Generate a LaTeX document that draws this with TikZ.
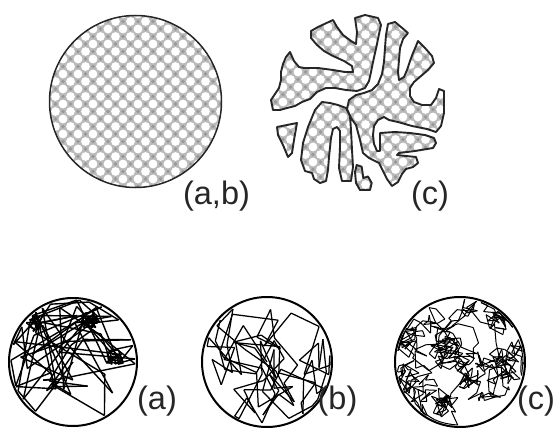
\documentclass[tikz,border=0pt]{standalone}
\usepackage{fontspec}
\setmainfont{Liberation Sans}
\newcount\wk
\begin{document}
\begin{tikzpicture}[x=1pt,y=-1pt,
  outline/.style={draw=black!85,line width=1.5pt},
  blobline/.style={draw=black!85,line width=1.9pt,line join=round},
  ring/.style={draw=black,line width=2pt},
  walkline/.style={black,line width=1.4pt,line join=round},
  midwalk/.style={black,line width=1.25pt,line join=round},
  thinwalk/.style={black,line width=1pt,line join=round},
  lab/.style={inner sep=0pt,text=black!85,font=\fontsize{32.5}{32.5}\selectfont}]

\useasboundingbox (0,0) rectangle (555,428);

% dotted lattice texture: white discs on grey with darker interstices
\newcommand\dotlattice[4]{% x0, y0, columns, rows
  \fill[black!27] (#1-9,#2-9) rectangle ++(15*#3+18,7.5*#4+18);
  \foreach \j in {0,...,#4}{\foreach \i in {0,...,#3}{%
    \fill[white] ({#1+15*\i+7.5*mod(\j,2)},{#2+7.5*\j}) circle (4.4pt);
    \fill[black!40] ({#1+15*\i+7.5+7.5*mod(\j,2)},{#2+7.5*\j}) circle (1.8pt);
  }}}

% random chain inside the unit disc, clamped at the rim
\newcommand\clampdraw[1]{%
  \pgfmathsetmacro\rr{sqrt(\nx*\nx+\ny*\ny)}%
  \pgfmathsetmacro\fc{\rr>0.985 ? 0.985/\rr : 1}%
  \pgfmathsetmacro\nx{\nx*\fc}%
  \pgfmathsetmacro\ny{\ny*\fc}%
  \draw[#1] (\wx,\wy) -- (\nx,\ny);%
  \xdef\wx{\nx}\xdef\wy{\ny}}
\newcommand\plainwalk[6]{% seed, steps, min len, max len, pull to centre, style
  \pgfmathsetseed{#1}%
  \gdef\wx{0}\gdef\wy{0}%
  \foreach \i in {1,...,#2}{%
    \pgfmathsetmacro\ang{360*rnd}%
    \pgfmathsetmacro\len{#3+(#4-#3)*rnd}%
    \pgfmathsetmacro\nx{#5*(\wx)+\len*cos(\ang)}%
    \pgfmathsetmacro\ny{#5*(\wy)+\len*sin(\ang)}%
    \clampdraw{#6}}}
\newcommand\guidedwalk[4]{% seed, steps per waypoint, waypoints, style
  \pgfmathsetseed{#1}%
  \gdef\wx{-0.75}\gdef\wy{-0.55}%
  \foreach \tx/\ty in {#3}{%
    \foreach \i in {1,...,#2}{%
      \pgfmathsetmacro\ang{360*rnd}%
      \pgfmathsetmacro\len{0.07+0.16*rnd}%
      \pgfmathsetmacro\nx{(\wx)+0.13*((\tx)-(\wx))+\len*cos(\ang)}%
      \pgfmathsetmacro\ny{(\wy)+0.13*((\ty)-(\wy))+\len*sin(\ang)}%
      \clampdraw{#4}}}}
\newcommand\knotpoint{%
  \ifcase\wk\or\def\kx{-0.6}\def\ky{-0.62}\or\def\kx{0.27}\def\ky{-0.66}%
  \or\def\kx{0.66}\def\ky{-0.06}\or\def\kx{-0.36}\def\ky{0.31}\fi
  \pgfmathsetmacro\ang{360*rnd}%
  \pgfmathsetmacro\rd{0.16*sqrt(rnd)}%
  \pgfmathsetmacro\nx{\kx+\rd*cos(\ang)}%
  \pgfmathsetmacro\ny{\ky+\rd*sin(\ang)}}
\newcommand\longstep{%
  \pgfmathsetmacro\ang{360*rnd}%
  \pgfmathsetmacro\len{0.4+0.9*rnd}%
  \pgfmathsetmacro\nx{0.8*(\wx)+\len*cos(\ang)}%
  \pgfmathsetmacro\ny{0.8*(\wy)+\len*sin(\ang)}}
\newcommand\knotwalk[2]{% seed, steps
  \pgfmathsetseed{#1}%
  \gdef\wx{0}\gdef\wy{0}\global\wk=0
  \foreach \i in {1,...,#2}{%
    \pgfmathsetmacro\u{rnd}%
    \ifnum\wk>0
      \ifdim\u pt<0.82pt \knotpoint\else\global\wk=0 \longstep\fi
    \else
      \ifdim\u pt<0.35pt
        \pgfmathtruncatemacro\kk{min(4,1+floor(4*rnd))}\global\wk=\kk\relax\knotpoint
      \else\longstep\fi
    \fi
    \clampdraw{walkline}}}

% ---- upper left: full disc
\begin{scope}
  \clip (135.5,101.5) circle (86pt);
  \dotlattice{48}{14}{12}{24}
\end{scope}
\draw[outline] (135.5,101.5) circle (86pt);
\node[lab] (lab-ab) at (216.5,196) {(a,b)};

% ---- upper right: branched domains
\def\blobshapes{
 (311,31) -- (318,27) -- (333,20) -- (337,27) -- (343,35) -- (351,41) -- (356,44) -- (357,32) -- (355,18) -- (365,15) -- (378,18) -- (381,25) -- (379,34) -- (377,44) -- (375,53) -- (373,62) -- (371,72) -- (369,81) -- (365,88) -- (357,91) -- (346,90) -- (335,88) -- (326,88) -- (317,92) -- (310,99) -- (302,102) -- (295,106) -- (287,108) -- (280,110) -- (273,110) -- (271,100) -- (275,94) -- (279,88) -- (281,80) -- (281,72) -- (283,64) -- (286,57) -- (290,52) -- (294,61) -- (299,67) -- (304,68) -- (318,68) -- (333,70) -- (345,72) -- (353,72) -- (352,66) -- (344,61) -- (333,56) -- (324,51) -- (317,45) -- (311,38) -- cycle
 (388,24) -- (395,22) -- (401,27) -- (408,33) -- (403,39) -- (400,48) -- (399,60) -- (398,72) -- (399,80) -- (404,77) -- (407,70) -- (410,61) -- (413,53) -- (416,46) -- (418,41) -- (425,48) -- (432,56) -- (434,63) -- (428,70) -- (421,76) -- (414,82) -- (410,88) -- (410,96) -- (414,102) -- (422,105) -- (431,105) -- (436,98) -- (439,89) -- (444,91) -- (444,113) -- (441,126) -- (436,132) -- (427,129) -- (412,126) -- (398,122) -- (389,120) -- (384,117) -- (378,120) -- (374,126) -- (373,135) -- (374,144) -- (377,151) -- (380,151) -- (380,141) -- (380,133) -- (395,132) -- (410,133) -- (425,135) -- (434,138) -- (436,143) -- (433,148) -- (415,151) -- (399,153) -- (397,155) -- (406,156) -- (416,157) -- (418,163) -- (413,167) -- (406,169) -- (402,174) -- (398,182) -- (392,186) -- (387,179) -- (383,171) -- (379,163) -- (369,158) -- (363,153) -- (360,140) -- (356,125) -- (351,118) -- (347,109) -- (349,100) -- (356,95) -- (364,93) -- (372,90) -- (378,84) -- (382,74) -- (384,62) -- (385,48) -- (386,35) -- cycle
 (330,103) -- (322,102) -- (315,110) -- (308,127) -- (303,143) -- (301,160) -- (305,171) -- (312,173) -- (314,179) -- (320,183) -- (326,181) -- (328,170) -- (329,157) -- (331,138) -- (333,129) -- (337,127) -- (340,131) -- (340,147) -- (339,168) -- (342,181) -- (351,181) -- (353,167) -- (352,150) -- (351,130) -- (350,116) -- (346,108) -- (338,105) -- cycle
 (277,127) -- (297,123) -- (294,140) -- (292,153) -- (288,157) -- (283,145) -- (278,135) -- cycle
 (356.7,165) -- (361.7,166.7) -- (363.3,178) -- (368,176.5) -- (371.7,183) -- (370,190) -- (360,190) -- (356,183) -- (355,172) -- cycle}
\begin{scope}
  \clip \blobshapes;
  \dotlattice{268}{12}{12}{25}
\end{scope}
\draw[blobline] \blobshapes;
\node[lab] (lab-c1) at (430,196) {(c)};

% ---- lower row: chain conformations
\draw[ring] (73,362) circle (64pt);
\begin{scope}[shift={(73,362)},x=63pt,y=-63pt]
  \knotwalk{17}{150}
\end{scope}
\node[lab] (lab-a) at (157,401.5) {(a)};

\draw[ring] (267,362) circle (65pt);
\begin{scope}[shift={(267,362)},x=64pt,y=-64pt]
  \plainwalk{11}{85}{0.3}{0.7}{0.88}{midwalk}
\end{scope}
\node[lab] (lab-b) at (337.5,401.5) {(b)};

\draw[ring] (460,362) circle (65pt);
\begin{scope}[shift={(460,362)},x=64pt,y=-64pt]
  \guidedwalk{29}{26}{-0.75/-0.55,-0.4/-0.45,-0.15/-0.25,0/-0.1,0.1/-0.7,0.35/-0.75,0.55/-0.5,0.75/-0.1,0.8/0.25,0.45/0.3,0.1/0.05,-0.15/0,-0.5/0.15,-0.8/0.3,-0.55/0.55,-0.2/0.8,-0.3/0.4,0.1/0.2,0.45/0.4}{thinwalk}
\end{scope}
\node[lab] (lab-c2) at (536,401.5) {(c)};
\end{tikzpicture}
\end{document}
